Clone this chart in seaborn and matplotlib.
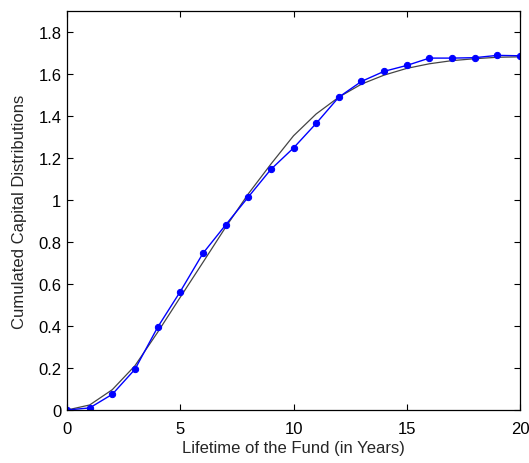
import numpy as np
import pandas as pd
import matplotlib
matplotlib.use("Agg")
import matplotlib.pyplot as plt
import seaborn as sns

years = list(range(21))
observed = [0.0, 0.01, 0.075, 0.194, 0.394, 0.564, 0.746, 0.881, 1.014, 1.146,
            1.248, 1.365, 1.490, 1.565, 1.613, 1.641, 1.676, 1.676, 1.678, 1.689, 1.687]
fitted = [0.0, 0.024, 0.097, 0.211, 0.370, 0.537, 0.703, 0.870, 1.029, 1.171,
          1.306, 1.410, 1.490, 1.552, 1.595, 1.627, 1.649, 1.664, 1.673, 1.680, 1.682]

df = pd.DataFrame({"year": years, "observed": observed, "fitted": fitted})

sns.set_style("ticks")
plt.rcParams["font.family"] = ["Liberation Sans", "DejaVu Sans"]
plt.rcParams["xtick.direction"] = "in"
plt.rcParams["ytick.direction"] = "in"

fig = plt.figure(figsize=(5.29, 4.64), dpi=100)
ax = fig.add_axes([0.1267, 0.1142, 0.8563, 0.8598])

sns.lineplot(data=df, x="year", y="fitted", color="#444444", linewidth=0.9, ax=ax)
sns.lineplot(data=df, x="year", y="observed", color="#0000ff", linewidth=1.0,
             marker="o", markersize=4.5, markeredgecolor="#0000ff", ax=ax)

ax.set_xlim(0, 20)
ax.set_ylim(0, 1.9)
ax.set_xticks([0, 5, 10, 15, 20])
ax.set_yticks([0, 0.2, 0.4, 0.6, 0.8, 1.0, 1.2, 1.4, 1.6, 1.8])
ax.set_yticklabels(["0", "0.2", "0.4", "0.6", "0.8", "1", "1.2", "1.4", "1.6", "1.8"])
ax.tick_params(top=True, right=True, labelsize=12, length=4, width=0.8,
               colors="black")
ax.tick_params(axis="x", pad=8)
ax.tick_params(axis="y", pad=4)
for s in ax.spines.values():
    s.set_visible(True)
    s.set_linewidth(0.9)
    s.set_color("black")
ax.set_xlabel("Lifetime of the Fund (in Years)", fontsize=12, labelpad=3)
ax.set_ylabel("Cumulated Capital Distributions", fontsize=12, labelpad=8)

fig.savefig("out.png", dpi=100)
